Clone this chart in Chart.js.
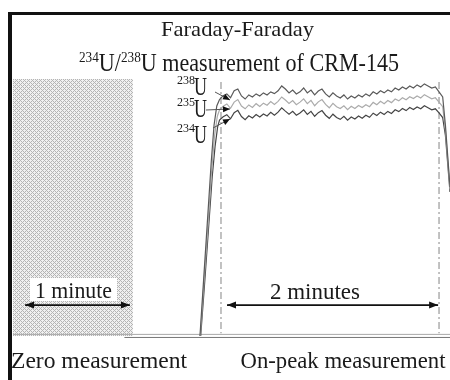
<!DOCTYPE html>
<html>
<head>
<meta charset="utf-8">
<script src="https://cdn.jsdelivr.net/npm/chart.js@4/dist/chart.umd.min.js"></script>
<style>
  html, body { margin: 0; padding: 0; background: #fff; }
  #wrap { width: 450px; height: 380px; position: relative; }
</style>
</head>
<body>
<div id="wrap"><canvas id="c" width="450" height="380"></canvas></div>
<script>
// Time axis in seconds, signal in percent of full scale.
const plateauStart = 114;   // first plateau sample (s)
const plateauStep = 2;      // sampling interval (s)

// Signal on the plateau, one value per sample
const u238Plateau = [92.0,93.5,94.2,92.7,95.4,96.1,93.4,92.2,93.8,93.0,94.2,93.4,94.6,93.8,95.0,94.3,95.4,97.3,96.1,94.6,95.7,94.2,95.0,96.5,94.6,95.7,93.8,95.3,96.1,94.2,93.0,94.6,93.4,92.6,93.8,92.2,93.4,92.6,93.8,93.0,94.2,93.4,95.0,94.2,95.4,94.6,95.7,95.0,96.5,95.7,96.9,96.1,97.3,96.5,97.7,96.9,98.1,97.3,96.5,96.9,95.0,93.0];
const u235Plateau = [88.0,89.4,90.3,88.6,91.0,92.0,89.5,88.4,89.9,88.9,90.4,89.3,90.6,89.8,91.2,90.1,91.3,93.0,91.8,90.5,91.6,90.0,91.0,92.3,90.4,91.7,89.6,91.1,92.0,90.1,88.8,90.5,89.2,88.5,89.6,88.1,89.4,88.5,89.7,88.9,90.0,89.2,90.9,90.0,91.3,90.4,91.6,90.8,92.2,91.5,92.7,91.9,93.1,92.4,93.4,92.6,93.9,93.1,92.3,92.7,91.0,89.2];
const u234Plateau = [84.0,85.3,86.1,84.5,86.9,87.8,85.4,84.2,85.7,84.8,86.2,85.2,86.4,85.6,87.0,85.9,87.1,88.8,87.5,86.3,87.4,85.9,86.8,88.0,86.2,87.4,85.5,86.9,87.7,85.9,84.7,86.3,85.0,84.3,85.5,84.0,85.2,84.4,85.6,84.7,85.9,85.1,86.7,85.8,87.1,86.2,87.4,86.6,88.0,87.3,88.5,87.7,88.9,88.1,89.1,88.4,89.6,88.8,88.0,88.4,86.8,85.0];

// Beam switching onto the peak
const u238RiseTimes = [103.3,105.5,107.5,109.5,111.0,112.5];
const u238Rise      = [0,24,46,68,82,89.5];
const u235RiseTimes = [103.5,105.7,107.8,109.8,111.3,112.8];
const u235Rise      = [0,23,44,65,78,85.5];
const u234RiseTimes = [103.7,106.0,108.0,110.0,111.6,113.0];
const u234Rise      = [0,22,42,62,74,81.5];

// Beam switching off the peak
const dropTimes = [237.5,240,243];
const u238Drop  = [82,58,35];
const u235Drop  = [80,57,35];
const u234Drop  = [78,56,34];

// Measurement windows (s)
const zeroWindow = [1.1, 66.7];
const peakWindow = [114.8, 234.0];
const windowArrows = { zero: [7.7, 65.0], peak: [118.1, 233.5], level: 12.0 };

const isotopeLabels = ['238', '235', '234'];

function trace(riseT, riseV, plateau, dropV) {
  const pts = riseT.map((t, i) => ({ x: t, y: riseV[i] }));
  plateau.forEach((v, i) => pts.push({ x: plateauStart + i * plateauStep, y: v }));
  dropTimes.forEach((t, i) => pts.push({ x: t, y: dropV[i] }));
  return pts;
}

// Cross-hatch tile for the zero-measurement window
function hatchPattern() {
  const t = document.createElement('canvas');
  t.width = 4; t.height = 4;
  const g = t.getContext('2d');
  g.fillStyle = '#f0f0f0';
  g.fillRect(0, 0, 4, 4);
  g.fillStyle = '#b4b4b4';
  [[0,0],[1,1],[2,2],[3,3],[3,1],[1,3]].forEach(p => g.fillRect(p[0], p[1], 1, 1));
  return g.createPattern(t, 'repeat');
}

const SERIF = '"Liberation Serif", "Times New Roman", serif';

// Draws text runs with superscripts; squeezes horizontally to fitW when given
function richText(ctx, parts, x, y, size, supSize, fitW) {
  let w = 0;
  parts.forEach(p => {
    ctx.font = (p.sup ? supSize : size) + 'px ' + SERIF;
    w += ctx.measureText(p.t).width;
  });
  const sx = fitW ? fitW / w : 1;
  ctx.save();
  ctx.translate(x - (w * sx) / 2, y);
  ctx.scale(sx, 1);
  ctx.textAlign = 'left';
  ctx.textBaseline = 'alphabetic';
  let cx = 0;
  parts.forEach(p => {
    ctx.font = (p.sup ? supSize : size) + 'px ' + SERIF;
    ctx.fillText(p.t, cx, p.sup ? -size * 0.38 : 0);
    cx += ctx.measureText(p.t).width;
  });
  ctx.restore();
}

function arrowHead(ctx, x1, y1, x2, y2, len, half) {
  const a = Math.atan2(y2 - y1, x2 - x1);
  ctx.beginPath();
  ctx.moveTo(x2, y2);
  ctx.lineTo(x2 - len * Math.cos(a) + half * Math.sin(a), y2 - len * Math.sin(a) - half * Math.cos(a));
  ctx.lineTo(x2 - len * Math.cos(a) - half * Math.sin(a), y2 - len * Math.sin(a) + half * Math.cos(a));
  ctx.closePath();
  ctx.fill();
}

function arrow(ctx, x1, y1, x2, y2, both) {
  ctx.beginPath();
  ctx.moveTo(x1, y1);
  ctx.lineTo(x2, y2);
  ctx.stroke();
  arrowHead(ctx, x1, y1, x2, y2, 9, 3.5);
  if (both) arrowHead(ctx, x2, y2, x1, y1, 9, 3.5);
}

const annotations = {
  id: 'annotations',
  beforeDraw(chart) {
    const ctx = chart.ctx;
    ctx.save();
    ctx.fillStyle = '#fff';
    ctx.fillRect(0, 0, chart.width, chart.height);
    ctx.restore();
  },
  afterDraw(chart) {
    const ctx = chart.ctx;
    const xs = chart.scales.x, ys = chart.scales.y;
    ctx.save();

    // frame
    ctx.fillStyle = '#111';
    ctx.fillRect(8, 12, 4, 368);
    ctx.fillRect(8, 12, 442, 3);

    // title
    ctx.fillStyle = '#1a1a1a';
    richText(ctx, [{ t: 'Faraday-Faraday' }], 237.5, 36, 22, 13, 153);
    richText(ctx, [{ t: '234', sup: true }, { t: 'U/' }, { t: '238', sup: true }, { t: 'U measurement of CRM-145' }], 239, 71, 25, 15, 320);

    // window arrows and labels
    const ay = ys.getPixelForValue(windowArrows.level);
    ctx.fillStyle = '#fff';
    ctx.fillRect(30, 278, 87, 23);
    ctx.strokeStyle = '#111';
    ctx.fillStyle = '#111';
    ctx.lineWidth = 1.6;
    arrow(ctx, xs.getPixelForValue(windowArrows.zero[0]), ay, xs.getPixelForValue(windowArrows.zero[1]), ay, true);
    arrow(ctx, xs.getPixelForValue(windowArrows.peak[0]), ay, xs.getPixelForValue(windowArrows.peak[1]), ay, true);
    ctx.fillStyle = '#1a1a1a';
    richText(ctx, [{ t: '1 minute' }], 73.5, 298, 23, 13, 77);
    richText(ctx, [{ t: '2 minutes' }], 315, 299, 24, 13, 90);

    // section captions
    richText(ctx, [{ t: 'Zero measurement' }], 99, 368, 24, 13, 176);
    richText(ctx, [{ t: 'On-peak measurement' }], 343, 368, 24, 13, 205);

    // isotope labels with pointer arrows
    const labelBase = [95, 117, 143];
    const targets = [[215, 92, 230, 100], [206, 110, 230, 109], [213, 128, 230, 119]];
    isotopeLabels.forEach((mass, i) => {
      ctx.fillStyle = '#1a1a1a';
      ctx.font = '12px ' + SERIF;
      ctx.textAlign = 'left';
      ctx.fillText(mass, 177, labelBase[i] - 11);
      ctx.save();
      ctx.translate(194, labelBase[i]);
      ctx.scale(0.72, 1);
      ctx.font = '25px ' + SERIF;
      ctx.fillText('U', 0, 0);
      ctx.restore();
      const t = targets[i];
      ctx.strokeStyle = '#555';
      ctx.fillStyle = '#111';
      ctx.lineWidth = 1;
      ctx.beginPath();
      ctx.moveTo(t[0], t[1]);
      ctx.lineTo(t[2], t[3]);
      ctx.stroke();
      arrowHead(ctx, t[0], t[1], t[2], t[3], 7, 3);
    });
    ctx.restore();
  }
};

const lineDefaults = { pointRadius: 0, borderWidth: 1.2, tension: 0, fill: false };

new Chart(document.getElementById('c'), {
  type: 'line',
  data: {
    datasets: [
      Object.assign({}, lineDefaults, {
        label: '238U', order: 1, borderColor: '#5a5a5a',
        data: trace(u238RiseTimes, u238Rise, u238Plateau, u238Drop)
      }),
      Object.assign({}, lineDefaults, {
        label: '235U', order: 2, borderColor: '#ababab',
        data: trace(u235RiseTimes, u235Rise, u235Plateau, u235Drop)
      }),
      Object.assign({}, lineDefaults, {
        label: '234U', order: 3, borderColor: '#454545',
        data: trace(u234RiseTimes, u234Rise, u234Plateau, u234Drop)
      }),
      Object.assign({}, lineDefaults, {
        label: 'zero window', order: 10, borderWidth: 0, borderColor: 'rgba(0,0,0,0)',
        backgroundColor: hatchPattern(), fill: 'origin',
        data: [{ x: zeroWindow[0], y: 100 }, { x: zeroWindow[1], y: 100 }]
      }),
      Object.assign({}, lineDefaults, {
        label: 'peak start', order: 5, borderColor: '#9a9a9a', borderWidth: 1.2, borderDash: [7, 3, 2, 3],
        data: [{ x: peakWindow[0], y: 98.8 }, { x: peakWindow[0], y: 1 }]
      }),
      Object.assign({}, lineDefaults, {
        label: 'peak end', order: 5, borderColor: '#9a9a9a', borderWidth: 1.2, borderDash: [7, 3, 2, 3],
        data: [{ x: peakWindow[1], y: 98.8 }, { x: peakWindow[1], y: 1 }]
      }),
      Object.assign({}, lineDefaults, {
        label: 'baseline', order: 6, borderColor: '#a8a8a8', borderWidth: 1,
        data: [{ x: 1.1, y: 0.6 }, { x: 240, y: 0.6 }]
      }),
      Object.assign({}, lineDefaults, {
        label: 'baseline2', order: 6, borderColor: '#777', borderWidth: 1,
        data: [{ x: 62, y: -0.6 }, { x: 240, y: -0.6 }]
      })
    ]
  },
  options: {
    responsive: false,
    animation: false,
    layout: { padding: { left: 11, right: 0, top: 79, bottom: 41 } },
    scales: {
      x: { type: 'linear', min: 0, max: 240, display: false },
      y: { type: 'linear', min: -1.2, max: 100, display: false }
    },
    plugins: {
      legend: { display: false },
      tooltip: { enabled: false },
      title: { display: false }
    }
  },
  plugins: [annotations]
});
</script>
</body>
</html>
